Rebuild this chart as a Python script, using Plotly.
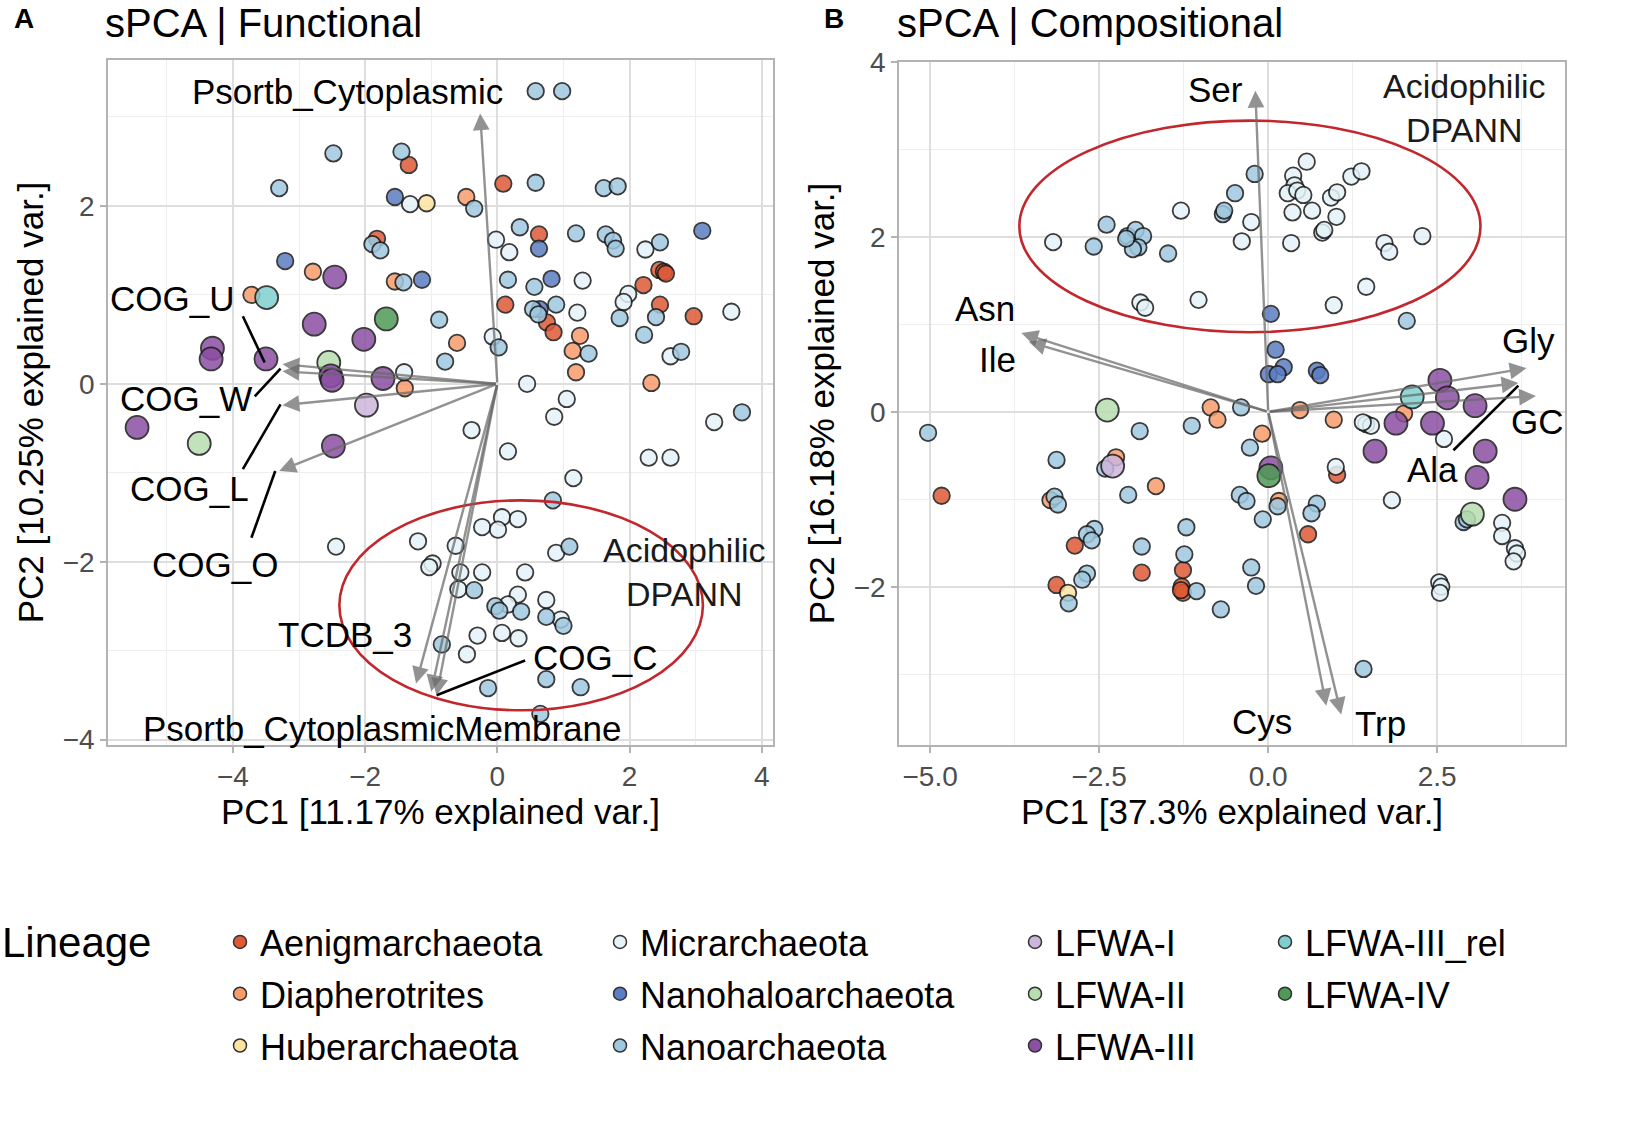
import plotly.graph_objects as go

# ---------------- data ----------------
lineages = ["Aenigmarchaeota", "Diapherotrites", "Huberarchaeota", "Micrarchaeota",
            "Nanohaloarchaeota", "Nanoarchaeota", "LFWA-I", "LFWA-II", "LFWA-III",
            "LFWA-III_rel", "LFWA-IV"]
lineage_colors = ["#DE5A36", "#F99C6C", "#FDE3A0", "#E4F3F8", "#5B7DC2", "#9FC8E0",
                  "#CDB6DB", "#B7DEAE", "#8B4FA4", "#7FCFCF", "#4F9A57"]
big_lineages = ["LFWA-I", "LFWA-II", "LFWA-III", "LFWA-III_rel", "LFWA-IV"]

# Panel A: sPCA functional (PC1, PC2)
func_aenig = [(-1.34, 2.46), (0.09, 2.25), (0.63, 1.68), (-1.82, 1.63), (2.45, 1.28), (2.52, 1.26),
              (2.55, 1.24), (2.21, 1.11), (0.12, 0.89), (2.46, 0.89), (2.97, 0.76), (0.75, 0.69), (0.85, 0.58)]
func_diaph = [(-0.47, 2.10), (-1.55, 1.15), (-2.79, 1.26), (-3.72, 1.00), (-0.61, 0.46), (1.25, 0.54),
              (1.14, 0.37), (1.19, 0.13), (-1.40, -0.05), (2.33, 0.01)]
func_huber = [(-1.07, 2.03)]
func_micr = [(-1.32, 2.02), (-0.02, 1.62), (0.18, 1.48), (2.24, 1.51), (1.29, 1.16), (1.98, 1.01),
             (1.91, 0.92), (1.21, 0.80), (3.54, 0.81), (-0.07, 0.53), (-1.41, 0.13), (0.45, 0.00),
             (1.05, -0.17), (0.86, -0.37), (-0.39, -0.52), (3.28, -0.43), (0.16, -0.76), (2.29, -0.83),
             (2.62, -0.83), (1.15, -1.06), (0.07, -1.50), (0.31, -1.52), (-0.23, -1.61), (0.01, -1.64),
             (-2.44, -1.83), (-1.20, -1.77), (-0.63, -1.82), (0.89, -1.90), (-0.98, -2.02), (-1.03, -2.06),
             (-0.56, -2.12), (-0.23, -2.12), (0.42, -2.12), (-0.59, -2.31), (0.31, -2.37), (0.16, -2.48),
             (0.74, -2.43), (0.96, -2.65), (-0.30, -2.83), (0.07, -2.80), (0.32, -2.86), (-0.46, -3.04),
             (2.62, 0.31)]
func_nanohalo = [(-1.55, 2.10), (0.63, 1.52), (3.10, 1.72), (-3.21, 1.38), (-1.14, 1.17), (0.82, 1.18),
                 (0.64, 0.84)]
func_nanoarch = [(0.58, 3.29), (0.98, 3.29), (-2.48, 2.59), (-1.45, 2.61), (-3.30, 2.20), (0.58, 2.26),
                 (1.61, 2.20), (1.82, 2.22), (-0.35, 1.97), (0.34, 1.76), (1.19, 1.69), (1.64, 1.68),
                 (1.75, 1.61), (1.79, 1.52), (2.46, 1.59), (-1.89, 1.57), (-1.77, 1.50), (-1.42, 1.14),
                 (0.16, 1.17), (0.56, 1.09), (0.54, 0.84), (0.62, 0.78), (0.89, 0.89), (1.85, 0.74),
                 (2.40, 0.75), (2.22, 0.55), (-0.88, 0.72), (0.02, 0.41), (1.38, 0.34), (2.78, 0.36),
                 (-0.79, 0.25), (3.70, -0.32), (0.84, -1.31), (1.09, -1.83), (-0.35, -2.32), (-0.03, -2.50),
                 (0.03, -2.55), (0.36, -2.56), (0.74, -2.62), (1.00, -2.72), (-0.84, -2.93), (0.74, -3.32),
                 (-0.14, -3.42), (1.26, -3.41), (0.65, -3.71)]
func_lfwa1 = [(-1.98, -0.24)]
func_lfwa2 = [(-2.55, 0.24), (-4.51, -0.67)]
func_lfwa3 = [(-2.46, 1.20), (-2.77, 0.67), (-2.02, 0.50), (-4.31, 0.40), (-4.33, 0.28), (-3.50, 0.28),
              (-2.52, 0.09), (-2.50, 0.04), (-1.73, 0.06), (-5.45, -0.49), (-2.48, -0.70)]
func_lfwa3rel = [(-3.49, 0.97)]
func_lfwa4 = [(-1.68, 0.73)]

# Panel B: sPCA compositional (PC1, PC2)
comp_aenig = [(-4.83, -0.96), (1.02, -0.72), (0.59, -1.40), (-2.86, -1.53), (-1.87, -1.84), (-1.26, -1.81),
              (-3.13, -1.98), (-1.28, -2.00), (-1.26, -2.07), (-1.29, -2.04)]
comp_diaph = [(-0.85, 0.05), (-0.75, -0.09), (0.47, 0.02), (0.97, -0.09), (-0.09, -0.25), (-2.25, -0.52),
              (-1.66, -0.85), (-3.22, -1.01), (0.16, -1.02), (2.01, -0.02)]
comp_huber = [(-2.96, -2.07)]
comp_micr = [(-3.18, 1.94), (-1.29, 2.30), (-0.25, 2.17), (-0.39, 1.95), (0.57, 2.86), (0.37, 2.70),
             (0.39, 2.59), (0.29, 2.50), (0.43, 2.53), (0.52, 2.48), (0.36, 2.28), (0.65, 2.30),
             (0.34, 1.93), (0.93, 2.45), (1.02, 2.51), (1.01, 2.23), (1.23, 2.69), (1.38, 2.75),
             (0.80, 2.05), (0.83, 2.08), (1.72, 1.93), (1.79, 1.83), (2.28, 2.01), (-1.89, 1.25),
             (-1.82, 1.19), (-1.03, 1.28), (0.97, 1.22), (1.45, 1.43), (1.45, -0.14), (1.52, -0.16),
             (1.40, -0.12), (1.00, -0.63), (1.83, -1.01), (2.60, -0.31), (2.53, -1.95), (2.56, -2.00),
             (2.54, -2.07), (3.46, -1.27), (3.46, -1.42), (3.65, -1.56), (3.68, -1.62), (3.63, -1.71)]
comp_nanohalo = [(0.04, 1.12), (0.11, 0.71), (0.23, 0.51), (0.01, 0.43), (0.14, 0.43), (0.72, 0.47),
                 (0.77, 0.42)]
comp_nanoarch = [(-2.58, 1.89), (-2.39, 2.14), (-2.08, 2.01), (-1.96, 2.08), (-1.85, 2.01), (-1.92, 1.88),
                 (-2.00, 1.86), (-2.10, 1.98), (-1.48, 1.81), (-0.67, 2.26), (-0.65, 2.30), (-0.49, 2.50),
                 (-0.20, 2.72), (2.05, 1.04), (-0.40, 0.05), (-5.03, -0.24), (-1.90, -0.22), (-1.13, -0.16),
                 (-0.27, -0.41), (-3.13, -0.55), (-2.41, -0.65), (-2.07, -0.95), (-3.16, -0.97),
                 (-3.11, -1.06), (-0.42, -0.95), (-0.32, -1.02), (0.14, -1.08), (0.72, -1.05),
                 (0.64, -1.16), (-0.08, -1.23), (-1.21, -1.32), (-2.57, -1.34), (-2.68, -1.40),
                 (-2.61, -1.47), (-1.87, -1.54), (-1.24, -1.63), (-2.68, -1.85), (-2.75, -1.92),
                 (-0.25, -1.78), (-2.95, -2.19), (-1.06, -2.05), (-0.18, -1.99), (-0.70, -2.26),
                 (1.41, -2.94), (2.89, -1.26), (2.94, -1.23)]
comp_lfwa1 = [(-2.30, -0.62)]
comp_lfwa2 = [(-2.38, 0.02), (3.02, -1.17)]
comp_lfwa3 = [(0.04, -0.64), (2.54, 0.36), (2.65, 0.16), (3.06, 0.07), (1.89, -0.13), (2.43, -0.13),
              (1.58, -0.45), (3.21, -0.45), (3.09, -0.75), (3.65, -1.00)]
comp_lfwa3rel = [(2.13, 0.17)]
comp_lfwa4 = [(0.01, -0.73)]

# loadings (arrow tips) and labels
func_vars = ["Psortb_Cytoplasmic", "COG_U", "COG_W", "COG_L", "COG_O", "TCDB_3",
             "Psortb_CytoplasmicMembrane", "COG_C"]
func_load_x = [-0.26, -3.25, -3.25, -3.25, -3.30, -1.23, -1.00, -0.92]
func_load_y = [3.04, 0.22, 0.14, -0.24, -0.98, -3.37, -3.46, -3.50]
func_label_x = [-2.27, -4.92, -4.71, -4.65, -4.27, -2.30, -1.73, 1.48]
func_label_y = [3.29, 0.96, -0.17, -1.18, -2.03, -2.82, -3.88, -3.08]

comp_vars = ["Ser", "Asn", "Ile", "Gly", "Ala", "GC", "Cys", "Trp"]
comp_load_x = [-0.19, -3.65, -3.54, 3.82, 3.70, 3.96, 0.86, 1.08]
comp_load_y = [3.67, 0.90, 0.80, 0.50, 0.33, 0.18, -3.36, -3.46]
comp_label_x = [-0.78, -4.19, -4.01, 3.85, 2.43, 3.98, -0.09, 1.66]
comp_label_y = [3.69, 1.18, 0.60, 0.82, -0.66, -0.11, -3.54, -3.56]

# leader lines (label -> arrow tip)
func_leaders = [((-3.85, 0.76), (-3.52, 0.24)), ((-3.67, -0.14), (-3.28, 0.17)),
                ((-3.85, -0.96), (-3.28, -0.23)), ((-3.72, -1.73), (-3.36, -0.98)),
                ((0.42, -3.11), (-0.92, -3.50))]
comp_leaders = [((2.74, -0.44), (3.70, 0.30))]

# ellipses: centre x, centre y, semi-axis x, semi-axis y
func_ellipse = (0.36, -2.49, 2.75, 1.18)
comp_ellipse = (-0.27, 2.12, 3.41, 1.21)

# ---------------- figure ----------------
FONT = "Liberation Sans, Arial, sans-serif"
func_data = [func_aenig, func_diaph, func_huber, func_micr, func_nanohalo, func_nanoarch,
             func_lfwa1, func_lfwa2, func_lfwa3, func_lfwa3rel, func_lfwa4]
comp_data = [comp_aenig, comp_diaph, comp_huber, comp_micr, comp_nanohalo, comp_nanoarch,
             comp_lfwa1, comp_lfwa2, comp_lfwa3, comp_lfwa3rel, comp_lfwa4]

fig = go.Figure()

for data, xa, ya in [(func_data, "x", "y"), (comp_data, "x2", "y2")]:
    for name, col, pts in zip(lineages, lineage_colors, data):
        size = 23 if name in big_lineages else 16.5
        fig.add_trace(go.Scatter(
            x=[p[0] for p in pts], y=[p[1] for p in pts], mode="markers",
            xaxis=xa, yaxis=ya, name=name, showlegend=False,
            marker=dict(size=size, color=col, opacity=0.85,
                        line=dict(color="#1a1a1a", width=1.8)),
        ))

# legend-only entries in four columns
legend_cols = ["legend", "legend", "legend", "legend2", "legend2", "legend2",
               "legend3", "legend3", "legend3", "legend4", "legend4"]
for name, col, lg in zip(lineages, lineage_colors, legend_cols):
    fig.add_trace(go.Scatter(
        x=[None], y=[None], mode="markers", name=name, legend=lg, legendgroup=name,
        marker=dict(size=13, color=col, line=dict(color="#333333", width=1.5)),
        xaxis="x", yaxis="y"))

annotations = []
shapes = []

ARROW_COL = "rgba(105,105,105,0.72)"
for xa, ya, lx, ly, tx, ty, labs in [
        ("x", "y", func_load_x, func_load_y, func_label_x, func_label_y, func_vars),
        ("x2", "y2", comp_load_x, comp_load_y, comp_label_x, comp_label_y, comp_vars)]:
    for x1, y1 in zip(lx, ly):
        annotations.append(dict(x=x1, y=y1, ax=0, ay=0, xref=xa, yref=ya, axref=xa, ayref=ya,
                                text="", showarrow=True, arrowhead=2, arrowsize=1.4,
                                arrowwidth=2.4, arrowcolor=ARROW_COL, standoff=0))
    for x1, y1, t in zip(tx, ty, labs):
        annotations.append(dict(x=x1, y=y1, xref=xa, yref=ya, text=t, showarrow=False,
                                font=dict(family=FONT, size=35, color="black"),
                                xanchor="center", yanchor="middle"))

for xa, ya, leaders in [("x", "y", func_leaders), ("x2", "y2", comp_leaders)]:
    for (x0, y0), (x1, y1) in leaders:
        shapes.append(dict(type="line", xref=xa, yref=ya, x0=x0, y0=y0, x1=x1, y1=y1,
                           line=dict(color="black", width=2.6)))

for xa, ya, (cx, cy, a, b) in [("x", "y", func_ellipse), ("x2", "y2", comp_ellipse)]:
    shapes.append(dict(type="circle", xref=xa, yref=ya, x0=cx - a, x1=cx + a, y0=cy - b, y1=cy + b,
                       line=dict(color="#C1272D", width=2.6)))

# Acidophilic DPANN labels
annotations.append(dict(x=2.83, y=-2.12, xref="x", yref="y", text="Acidophilic<br>DPANN",
                        showarrow=False, align="center",
                        font=dict(family=FONT, size=34, color="#1a1a1a")))
annotations.append(dict(x=2.9, y=3.47, xref="x2", yref="y2", text="Acidophilic<br>DPANN",
                        showarrow=False, align="center",
                        font=dict(family=FONT, size=34, color="#1a1a1a")))

# panel titles and tags
W, H = 1650, 1121
annotations += [
    dict(x=12 / W, y=1 - 18 / H, xref="paper", yref="paper", text="<b>A</b>", showarrow=False,
         xanchor="left", yanchor="middle", font=dict(family=FONT, size=28, color="black")),
    dict(x=822 / W, y=1 - 18 / H, xref="paper", yref="paper", text="<b>B</b>", showarrow=False,
         xanchor="left", yanchor="middle", font=dict(family=FONT, size=28, color="black")),
    dict(x=104 / W, y=1, xref="paper", yref="paper", text="sPCA | Functional",
         showarrow=False, xanchor="left", yanchor="top", borderpad=0,
         font=dict(family=FONT, size=40, color="black")),
    dict(x=896 / W, y=1, xref="paper", yref="paper", text="sPCA | Compositional",
         showarrow=False, xanchor="left", yanchor="top", borderpad=0,
         font=dict(family=FONT, size=40, color="black")),
    dict(x=0, y=1 - 942 / H, xref="paper", yref="paper", text="Lineage", showarrow=False,
         xanchor="left", yanchor="middle", font=dict(family=FONT, size=42, color="black")),
]

GRID = "#DEDEDE"
MINOR = "#EEEEEE"
BORDER = "#B3B3B3"
TICKFONT = dict(family=FONT, size=28, color="#4D4D4D")
TITLEFONT = dict(family=FONT, size=35, color="black")


def axis(domain, rng, dtick, minor_dtick, title, anchor, fmt=None):
    d = dict(domain=domain, range=rng, dtick=dtick, tick0=0, minor=dict(dtick=minor_dtick, tick0=0,
             showgrid=True, gridcolor=MINOR, gridwidth=1),
             showgrid=True, gridcolor=GRID, gridwidth=1.6, zeroline=False,
             showline=True, linecolor=BORDER, linewidth=1.6, mirror=True,
             ticks="outside", ticklen=6, tickwidth=1.5, tickcolor=BORDER,
             tickfont=TICKFONT, title=dict(text=title, font=TITLEFONT, standoff=8),
             anchor=anchor, automargin=False)
    if fmt:
        d["tickformat"] = fmt
    return d


ydom_a = [1 - 745 / H, 1 - 60 / H]
ydom_b = [1 - 745 / H, 1 - 62 / H]

legend_common = dict(orientation="v", yanchor="top", xanchor="left", y=1 - 912 / H,
                     font=dict(family=FONT, size=36, color="black"), tracegroupgap=2,
                     bgcolor="rgba(0,0,0,0)", itemclick=False, itemdoubleclick=False)

fig.update_layout(
    width=W, height=H, margin=dict(l=0, r=0, t=0, b=0, autoexpand=False),
    paper_bgcolor="white", plot_bgcolor="white",
    xaxis=axis([108 / W, 773 / W], [-5.89, 4.17], 2, 1, "PC1 [11.17% explained var.]", "y"),
    yaxis=axis(ydom_a, [-4.06, 3.64], 2, 1, "PC2 [10.25% explained var.]", "x"),
    xaxis2=axis([899 / W, 1565 / W], [-5.46, 4.39], 2.5, 1.25, "PC1 [37.3% explained var.]", "y2", ".1f"),
    yaxis2=axis(ydom_b, [-3.81, 4.0], 2, 1, "PC2 [16.18% explained var.]", "x2"),
    annotations=annotations, shapes=shapes,
    legend=dict(x=220 / W, **legend_common),
    legend2=dict(x=600 / W, **legend_common),
    legend3=dict(x=1015 / W, **legend_common),
    legend4=dict(x=1265 / W, **legend_common),
)

fig.write_html("out.html", config={"displayModeBar": False},
               post_script="document.body.style.margin='0px';")
